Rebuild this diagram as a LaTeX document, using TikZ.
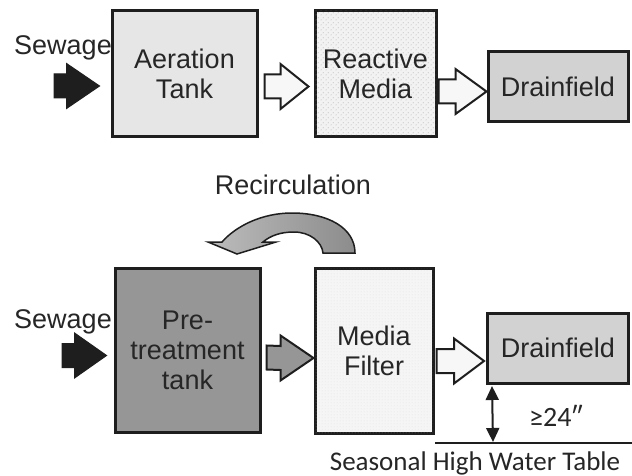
\documentclass[tikz,border=0pt]{standalone}
\usepackage{fontspec}
\setmainfont{Liberation Sans}
\newfontfamily\calib{Carlito}
\usetikzlibrary{calc,patterns,arrows.meta}
\pgfdeclarepatternformonly{sparsedots}{\pgfqpoint{0pt}{0pt}}{\pgfqpoint{5pt}{5pt}}{\pgfqpoint{5pt}{5pt}}{%
  \pgfpathcircle{\pgfqpoint{1.25pt}{1.25pt}}{.55pt}%
  \pgfpathcircle{\pgfqpoint{3.75pt}{3.75pt}}{.55pt}%
  \pgfusepath{fill}}
\pgfdeclarepatternformonly{finedots}{\pgfqpoint{0pt}{0pt}}{\pgfqpoint{3pt}{3pt}}{\pgfqpoint{3pt}{3pt}}{%
  \pgfpathcircle{\pgfqpoint{1.5pt}{1.5pt}}{.45pt}%
  \pgfusepath{fill}}
\definecolor{ink}{HTML}{1E1E1E}
\definecolor{txt}{HTML}{262626}
\definecolor{pretank}{HTML}{969696}
\definecolor{drain}{HTML}{D2D2D2}
\definecolor{aerf}{HTML}{E6E6E6}
\definecolor{recl}{HTML}{BCBCBC}
\definecolor{recr}{HTML}{8C8C8C}
\newcommand\blockarr[4]{%
  \draw[#1] ($(#2)+(0,-12)$) -- ($(#3)+(-#4,-12)$) -- ($(#3)+(-#4,-22.5)$) -- (#3)
    -- ($(#3)+(-#4,22.5)$) -- ($(#3)+(-#4,12)$) -- ($(#2)+(0,12)$) -- cycle;}
\tikzset{
  box/.style={draw=ink, line width=3pt, inner sep=0pt, align=center, text=txt,
    font=\fontsize{27}{30}\selectfont},
  lbl/.style={inner sep=0pt, text=txt, font=\fontsize{27}{30}\selectfont},
  blackarr/.style={fill=ink, draw=ink, line width=1pt, line join=miter},
  hollowarr/.style={fill=gray!6, draw=ink, line width=2pt, line join=miter},
  grayarr/.style={fill=pretank, draw=ink, line width=2pt, line join=miter},
}
\begin{document}
\begin{tikzpicture}[x=1pt,y=-1pt]
\useasboundingbox (0,0) rectangle (632,476);
% top row
\node[box, fill=aerf, minimum width=145, minimum height=126] (aer) at (184.5,74) {Aeration\\Tank};
\node[box, fill=gray!10, postaction={pattern=sparsedots, pattern color=gray!75},
  minimum width=121, minimum height=126] (rea) at (375.5,74) {Reactive\\Media};
\node[box, fill=drain, minimum width=140, minimum height=70] (dr1) at (558,87) {Drainfield};
\node[lbl] (sw1) at (63,48) {Sewage};
\coordinate (s1) at (54,86);
\blockarr{blackarr}{s1}{$(aer.west)+(-11,12)$}{33}
\blockarr{hollowarr}{$(aer.east)+(6,12.5)$}{$(rea.west)+(-5,12.5)$}{28}
\blockarr{hollowarr}{$(rea.east)+(1,17.5)$}{$(dr1.west)+(0,4.5)$}{31}
% bottom row
\node[lbl] (rec) at (293,185) {Recirculation};
\node[box, fill=pretank, minimum width=145, minimum height=164] (pre) at (187.5,350) {Pre-\\treatment\\tank};
\node[box, fill=gray!8, postaction={pattern=finedots, pattern color=gray!40},
  minimum width=118, minimum height=165] (med) at (374,350.5) {Media\\Filter};
\node[box, fill=drain, minimum width=141, minimum height=70] (dr2) at (558,348) {Drainfield};
\node[lbl] (sw2) at (63,322) {Sewage};
\coordinate (s2) at (62,355.5);
\blockarr{blackarr}{s2}{$(pre.west)+(-7,5.5)$}{32}
\blockarr{grayarr}{$(pre.east)+(5,7.5)$}{$(med.west)+(0,7.5)$}{33}
\blockarr{hollowarr}{$(med.east)+(2,10.5)$}{$(dr2.west)+(-2,13)$}{30}
% recirculation curved arrow
\draw[draw=ink, line width=1.5pt, line join=miter, left color=recl, right color=recr]
  (355,253) .. controls (355,228) and (328,213) .. (292,213)
  .. controls (262,213) and (236,226) .. (222,242)
  -- (208,242) -- (237,254) -- (276,242) -- (263,242)
  .. controls (270,236) and (280,232) .. (294,232)
  .. controls (310,232) and (322,242) .. (323,253) -- cycle;
% water table
\coordinate (wl) at (435,443);
\coordinate (wr) at (632,443);
\draw[ink, line width=2pt] (wl) -- (wr);
\coordinate (da) at ($(dr2.south west)+(6,1.5)$);
\coordinate (db) at (493,442);
\draw[ink, line width=2pt, {Triangle[length=14pt,width=13pt]}-{Triangle[length=14pt,width=13pt]}] (da) -- (db);
\node[inner sep=0pt, text=txt, font=\calib\fontsize{28}{30}\selectfont] (ge) at (556,416) {≥24″};
\node[inner sep=0pt, text=txt, font=\calib\fontsize{27}{30}\selectfont] (swt) at (475,463) {Seasonal High Water Table};
\end{tikzpicture}
\end{document}
